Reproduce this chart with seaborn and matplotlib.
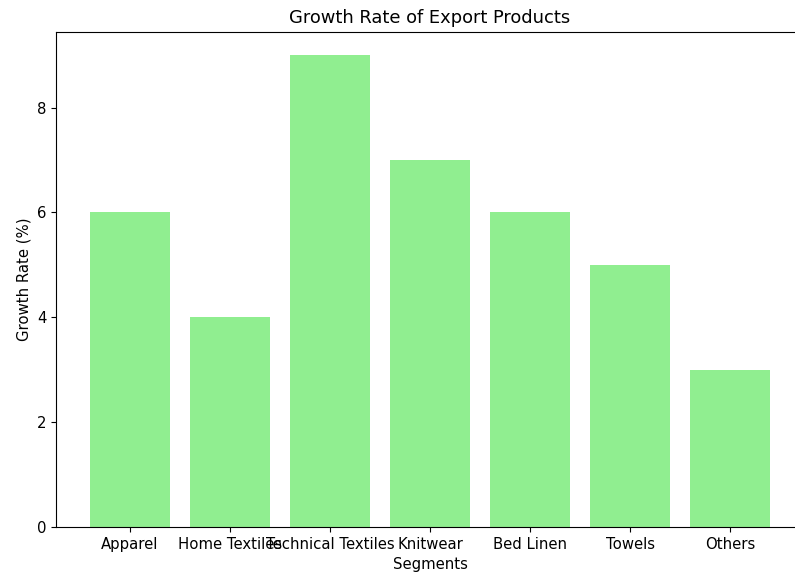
import pandas as pd
import matplotlib
matplotlib.use("Agg")
import matplotlib.pyplot as plt
import seaborn as sns

# Dados do gráfico
segmentos = ['Apparel', 'Home Textiles', 'Technical Textiles', 'Knitwear',
             'Bed Linen', 'Towels', 'Others']
taxa_crescimento = [6, 4, 9, 7, 6, 5, 3]

df = pd.DataFrame({'Segments': segmentos, 'Growth Rate (%)': taxa_crescimento})

# fonte um pouco maior, como na referência
plt.rcParams['font.size'] = 10.7

fig = plt.figure(figsize=(7.95, 5.75), dpi=100)
# posição dos eixos (a borda direita fica fora da imagem, como na referência)
ax = fig.add_axes([56 / 795, 48 / 575, 748 / 795, 495.5 / 575])

sns.barplot(data=df, x='Segments', y='Growth Rate (%)', color='lightgreen',
            saturation=1, width=0.8, ax=ax)

# margens iguais às do matplotlib padrão
n = len(segmentos)
ax.set_xlim(-0.4 - 0.34, n - 1 + 0.4 + 0.34)
ax.set_ylim(0, 9.45)
ax.spines['right'].set_visible(False)

ax.set_title('Growth Rate of Export Products')
ax.set_xlabel('Segments')
ax.set_ylabel('Growth Rate (%)')

plt.savefig('out.png', dpi=100)
